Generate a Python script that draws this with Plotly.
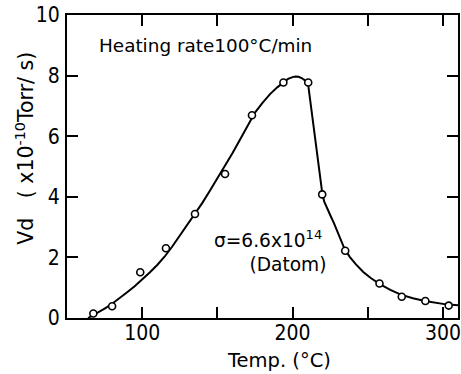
import plotly.graph_objects as go

# measured points
temp_pts = [67.5, 80.0, 98.7, 115.8, 135.1, 155.1, 173.0, 193.9, 210.4, 219.7, 235.0, 257.8, 272.6, 288.3, 303.8]
vd_pts = [0.15, 0.39, 1.51, 2.30, 3.43, 4.75, 6.69, 7.77, 7.77, 4.08, 2.22, 1.14, 0.70, 0.56, 0.41]

# fitted curve
curve_temp = [64, 67, 70, 75, 80, 85, 90, 95, 100, 105, 110, 115, 120, 125, 130, 135, 140, 145, 150, 155,
              160, 165, 170, 175, 180, 185, 190, 194, 197, 200, 202, 204, 206, 208, 209.5, 210.5, 212, 214,
              216, 218, 219.8, 221, 223, 225, 227.5, 230, 234.4, 238, 242, 247, 252, 258, 265, 272, 280,
              288, 295, 302, 310]
curve_vd = [0.0, 0.08, 0.17, 0.31, 0.47, 0.65, 0.85, 1.05, 1.27, 1.5, 1.75, 2.03, 2.36, 2.72, 3.07, 3.43, 3.8,
            4.2, 4.6, 5.0, 5.44, 5.88, 6.35, 6.78, 7.1, 7.39, 7.62, 7.79, 7.89, 7.95, 7.97, 7.96, 7.92, 7.85,
            7.78, 7.65, 7.1, 6.3, 5.55, 4.85, 4.1, 3.85, 3.6, 3.4, 3.13, 2.82, 2.3, 2.02, 1.78, 1.52, 1.32,
            1.12, 0.93, 0.77, 0.65, 0.56, 0.5, 0.45, 0.42]

x_tickvals = [100, 200, 300]
x_ticktext = ["100", "200", "300"]
x_minor_ticks = [150, 250]
y_tickvals = [0, 2, 4, 6, 8, 10]
y_ticktext = ["0", "2", "4", "6", "8", "10"]

TXT = "DejaVu Sans"
NUM = "DejaVu Sans Condensed, Liberation Sans"

fig = go.Figure()
fig.add_trace(go.Scatter(x=curve_temp, y=curve_vd, mode="lines",
                         line=dict(color="black", width=2, shape="linear"),
                         hoverinfo="skip", showlegend=False))
fig.add_trace(go.Scatter(x=temp_pts, y=vd_pts, mode="markers",
                         marker=dict(symbol="circle", size=7, color="white",
                                     line=dict(color="black", width=1.6)),
                         showlegend=False))

axis_common = dict(showline=True, linecolor="black", linewidth=2, mirror="ticks",
                   ticks="inside", ticklen=11, tickwidth=2, tickcolor="black",
                   showgrid=False, zeroline=False,
                   tickfont=dict(family=NUM, size=21, color="black"))

fig.update_xaxes(range=[50, 310], tickmode="array", tickvals=x_tickvals, ticktext=x_ticktext,
                 ticklabelstandoff=-5,
                 minor=dict(tickmode="array", tickvals=x_minor_ticks, ticks="inside", ticklen=11,
                            tickwidth=2, tickcolor="black", showgrid=False),
                 **axis_common)
fig.update_yaxes(range=[0, 10], tickmode="array", tickvals=y_tickvals, ticktext=y_ticktext,
                 ticklabelstandoff=1, **axis_common)

fig.add_annotation(x=70, y=9.0, xref="x", yref="y", xanchor="left", yanchor="middle",
                   text="Heating rate100°C/min", showarrow=False,
                   font=dict(family=TXT, size=18.4, color="black"))
fig.add_annotation(x=146.5, y=2.2, xref="x", yref="y", xanchor="left", yanchor="middle",
                   align="left",
                   text="σ=6.6x10<sup>14</sup><br>\u00a0\u00a0\u00a0\u00a0\u00a0\u00a0(Datom)",
                   showarrow=False,
                   font=dict(family=TXT, size=18.6, color="black"))
fig.add_annotation(x=-0.107, y=0.559, xref="paper", yref="paper", xanchor="center", yanchor="middle",
                   textangle=-90, text="Vd   ( x10<sup>-10</sup>Torr/ s)", showarrow=False,
                   font=dict(family=TXT, size=20.5, color="black"))
fig.add_annotation(x=0.541, y=-0.139, xref="paper", yref="paper", xanchor="center", yanchor="middle",
                   text="Temp. (°C)", showarrow=False,
                   font=dict(family=TXT, size=19.5, color="black"))

fig.update_layout(width=461, height=374, margin=dict(l=67, r=1, t=15, b=56),
                  paper_bgcolor="white", plot_bgcolor="white")

fig.write_html("out.html")
